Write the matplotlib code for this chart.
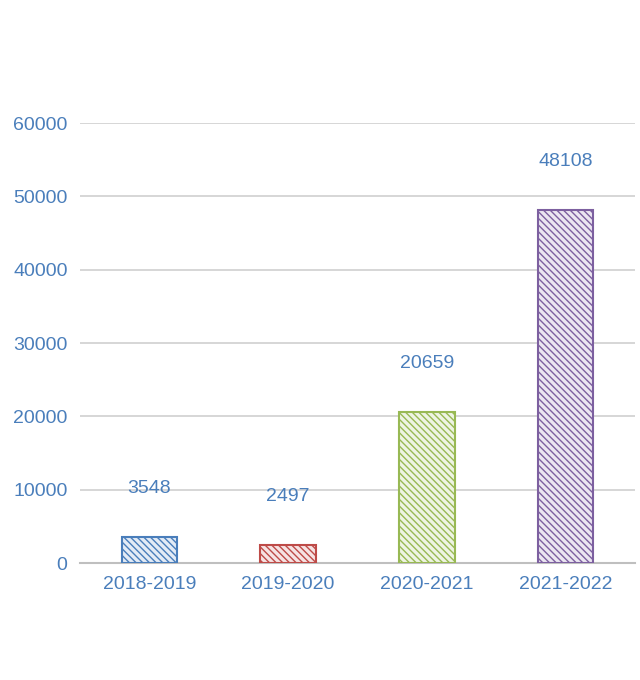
import matplotlib
matplotlib.use("Agg")
import matplotlib.pyplot as plt

categories = ["2018-2019", "2019-2020", "2020-2021", "2021-2022"]
values = [3548, 2497, 20659, 48108]
edge_colors = ["#4a7ebb", "#be4b48", "#98b954", "#7d60a0"]
face_colors = ["#e3ebf6", "#f6e3e3", "#eef4e3", "#ebe6f1"]
yticks = [0, 10000, 20000, 30000, 40000, 50000, 60000]

plt.rcParams['font.family'] = ['Liberation Sans', 'DejaVu Sans']
plt.rcParams['hatch.linewidth'] = 1.0
fig = plt.figure(figsize=(6.4, 6.8), dpi=100)
ax = fig.add_axes([0.125, 0.172, 0.867, 0.647])
x = range(len(categories))
for i, v in enumerate(values):
    plt.rcParams['hatch.color'] = edge_colors[i]
    ax.bar(i, v, width=0.4, color=face_colors[i], edgecolor=edge_colors[i],
           hatch='\\\\\\\\\\', linewidth=1.5, zorder=3)
    ax.text(i, v + 6600, str(v), ha='center', va='center', color='#4a7ebb', fontsize=14)
ax.set_xlim(-0.5, 3.5)
ax.set_ylim(0, 60000)
ax.set_yticks(yticks)
ax.set_xticks(list(x))
ax.set_xticklabels(categories)
ax.tick_params(colors='#4a7ebb', labelsize=14, length=0, pad=9)
ax.yaxis.grid(True, color='#d0d0d0', linewidth=1.2, zorder=0)
for s in ['top', 'right', 'left']:
    ax.spines[s].set_visible(False)
ax.spines['bottom'].set_color('#bfbfbf')
ax.spines['bottom'].set_linewidth(1.5)
fig.savefig("out.png", dpi=100)
